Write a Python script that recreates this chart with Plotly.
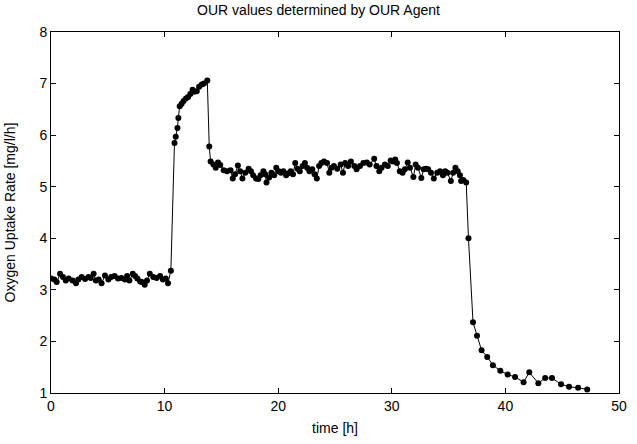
import plotly.graph_objects as go

# Oxygen uptake rate samples: time [h] and OUR [mg/l/h]
time_baseline = [0.0, 0.3, 0.5, 0.8, 1.05, 1.3, 1.55, 1.9, 2.2, 2.4, 2.7, 3.0, 3.3, 3.5,
                 3.75, 3.95, 4.2, 4.45, 4.75, 5.05, 5.3, 5.6, 5.9, 6.2, 6.5, 6.7, 6.9,
                 7.2, 7.4, 7.6, 7.85, 8.0, 8.25, 8.45, 8.7, 9.0, 9.3, 9.6, 9.85, 10.1,
                 10.3, 10.55]
our_baseline = [3.22, 3.20, 3.15, 3.31, 3.25, 3.18, 3.22, 3.18, 3.13, 3.20, 3.25, 3.21,
                3.25, 3.23, 3.31, 3.18, 3.20, 3.13, 3.28, 3.20, 3.25, 3.27, 3.22, 3.23,
                3.20, 3.27, 3.18, 3.31, 3.27, 3.22, 3.16, 3.15, 3.10, 3.18, 3.31, 3.25,
                3.23, 3.27, 3.20, 3.22, 3.13, 3.37]

time_peak = [10.87, 10.98, 11.13, 11.21, 11.33, 11.5, 11.67, 11.88, 12.07, 12.26, 12.46,
             12.6, 12.83, 13.04, 13.27, 13.47, 13.76]
our_peak = [5.85, 5.97, 6.14, 6.33, 6.56, 6.61, 6.66, 6.71, 6.74, 6.80, 6.88, 6.84, 6.85,
            6.94, 6.98, 7.00, 7.06]

time_plateau = [13.93, 14.05, 14.3, 14.5, 14.7, 14.9, 15.2, 15.5, 15.8, 16.0, 16.2, 16.45,
                16.65, 16.85, 17.1, 17.4, 17.6, 17.8, 18.05, 18.25, 18.45, 18.7, 18.85,
                18.97, 19.2, 19.4, 19.65, 19.83, 20.05, 20.25, 20.45, 20.7, 20.9, 21.1,
                21.3, 21.5, 21.7, 21.9, 22.15, 22.35, 22.55, 22.75, 23.0, 23.2, 23.4,
                23.6, 23.8, 24.03, 24.3, 24.5, 24.7, 24.9, 25.2, 25.5, 25.7, 25.9, 26.15,
                26.4, 26.7, 26.9, 27.2, 27.5, 27.8, 28.05, 28.45, 28.65, 28.9, 29.1,
                29.4, 29.65, 29.9, 30.1, 30.3, 30.45, 30.7, 30.95, 31.15, 31.4, 31.6,
                31.9, 32.1, 32.3, 32.6, 32.8, 33.0, 33.2, 33.45, 33.7, 34.0, 34.25,
                34.5, 34.7, 34.9, 35.2, 35.4, 35.6, 35.8, 36.0, 36.1, 36.3, 36.55]
our_plateau = [5.78, 5.49, 5.43, 5.37, 5.47, 5.42, 5.32, 5.30, 5.32, 5.16, 5.24, 5.41,
               5.30, 5.16, 5.27, 5.35, 5.30, 5.22, 5.16, 5.15, 5.22, 5.30, 5.24, 5.08,
               5.18, 5.27, 5.22, 5.37, 5.30, 5.27, 5.30, 5.22, 5.26, 5.30, 5.24, 5.46,
               5.35, 5.30, 5.40, 5.46, 5.37, 5.30, 5.34, 5.24, 5.16, 5.40, 5.46, 5.49,
               5.46, 5.27, 5.37, 5.40, 5.35, 5.43, 5.27, 5.46, 5.40, 5.49, 5.40, 5.34,
               5.40, 5.46, 5.47, 5.43, 5.54, 5.40, 5.30, 5.37, 5.43, 5.40, 5.51, 5.49,
               5.53, 5.46, 5.30, 5.27, 5.34, 5.47, 5.37, 5.19, 5.43, 5.37, 5.17, 5.34,
               5.35, 5.34, 5.27, 5.16, 5.27, 5.30, 5.22, 5.30, 5.27, 5.11, 5.27, 5.37,
               5.30, 5.22, 5.11, 5.13, 5.08]

time_decline = [36.75, 37.15, 37.5, 37.9, 38.4, 38.9, 39.55, 40.2, 40.85, 41.6, 42.1,
                42.9, 43.5, 44.1, 44.9, 45.6, 46.4, 47.2]
our_decline = [4.00, 2.37, 2.11, 1.83, 1.70, 1.54, 1.43, 1.36, 1.31, 1.21, 1.40, 1.19,
               1.29, 1.29, 1.17, 1.12, 1.10, 1.07]

time_h = time_baseline + time_peak + time_plateau + time_decline
our = our_baseline + our_peak + our_plateau + our_decline

x_ticks = [0, 10, 20, 30, 40, 50]
y_ticks = [1, 2, 3, 4, 5, 6, 7, 8]

font_family = "Liberation Sans, Arial, Helvetica, sans-serif"

fig = go.Figure(
    go.Scatter(
        x=time_h,
        y=our,
        mode="lines+markers",
        line=dict(color="black", width=1),
        marker=dict(color="black", size=6, symbol="circle"),
        showlegend=False,
    )
)

axis_style = dict(
    showline=True,
    linecolor="black",
    linewidth=1,
    mirror="ticks",
    ticks="inside",
    ticklen=5,
    tickcolor="black",
    showgrid=False,
    zeroline=False,
    tickfont=dict(family=font_family, size=14, color="black"),
)

fig.update_xaxes(
    range=[0, 50],
    tickvals=x_ticks,
    ticktext=[str(v) for v in x_ticks],
    title=dict(text="time [h]", font=dict(family=font_family, size=14, color="black"),
               standoff=10),
    **axis_style,
)
fig.update_yaxes(
    range=[1, 8],
    tickvals=y_ticks,
    ticktext=[str(v) for v in y_ticks],
    title=dict(text="Oxygen Uptake Rate [mg/l/h]",
               font=dict(family=font_family, size=14, color="black"), standoff=20),
    **axis_style,
)

fig.update_layout(
    width=637,
    height=444,
    margin=dict(l=51, r=10, t=32, b=47),
    paper_bgcolor="white",
    plot_bgcolor="white",
    title=dict(
        text="OUR values determined by OUR Agent",
        font=dict(family=font_family, size=14, color="black"),
        x=0.5,
        xanchor="center",
        y=0.978,
        yanchor="middle",
    ),
)

fig.write_html("out.html")
